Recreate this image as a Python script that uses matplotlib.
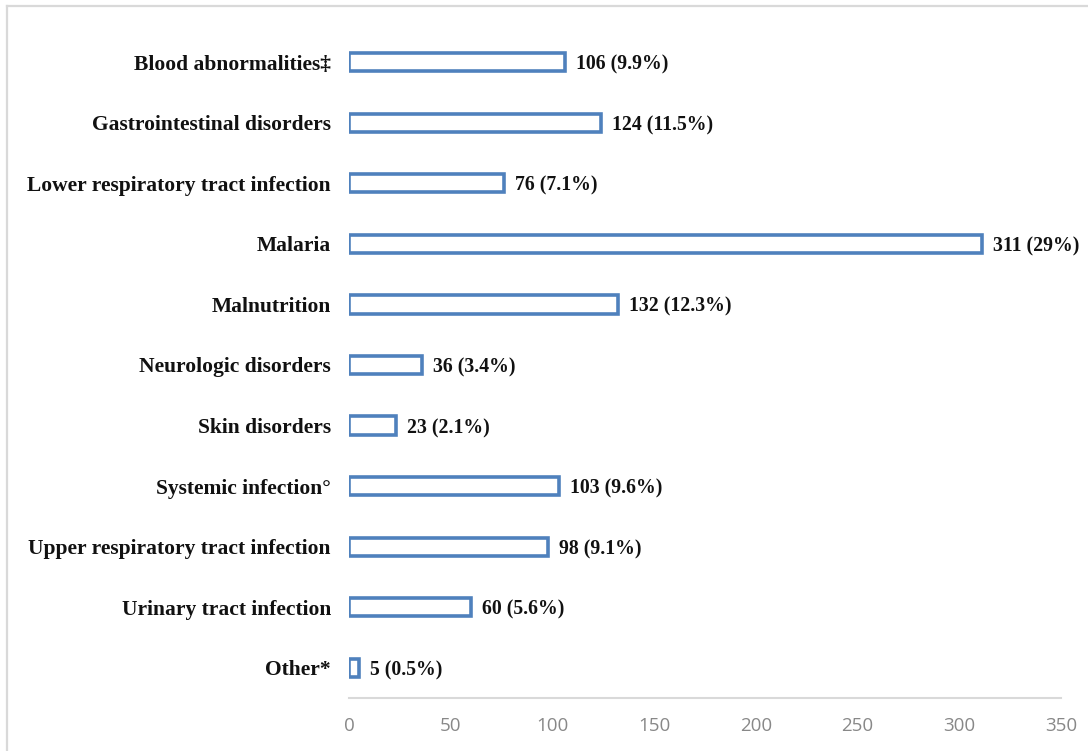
import matplotlib.pyplot as plt
from matplotlib.lines import Line2D

categories = [
    'Blood abnormalities\u2021',
    'Gastrointestinal disorders',
    'Lower respiratory tract infection',
    'Malaria',
    'Malnutrition',
    'Neurologic disorders',
    'Skin disorders',
    'Systemic infection\u00b0',
    'Upper respiratory tract infection',
    'Urinary tract infection',
    'Other*',
]
counts = [106, 124, 76, 311, 132, 36, 23, 103, 98, 60, 5]
percents = ['9.9%', '11.5%', '7.1%', '29%', '12.3%', '3.4%', '2.1%', '9.6%', '9.1%', '5.6%', '0.5%']

xticks = [0, 50, 100, 150, 200, 250, 300, 350]

fig = plt.figure(figsize=(10.88, 7.51), dpi=100)
ax = fig.add_axes([0.3208, 0.0706, 0.6544, 0.8868])

y = list(range(len(categories)))
ax.barh(y, counts, height=0.3, color='white', edgecolor='#4F81BD', linewidth=2.6)

for yi, c, p in zip(y, counts, percents):
    ax.annotate(f'{c} ({p})', xy=(c, yi), xytext=(8, 0), textcoords='offset points',
                ha='left', va='center_baseline', fontsize=14.2, fontweight='bold',
                family='Liberation Serif', color='#111111')

ax.set_yticks(y)
ax.set_yticklabels(categories, fontsize=15.5, fontweight='bold',
                   family='Liberation Serif', color='#111111')
ax.set_ylim(len(categories) - 0.5, -0.5)
ax.set_xlim(0, 350)
ax.set_xticks(xticks)
ax.set_xticklabels([str(t) for t in xticks], fontsize=13.5, color='#888888', family='Open Sans')
ax.tick_params(axis='both', length=0)
ax.tick_params(axis='y', pad=13)
ax.tick_params(axis='x', pad=14)

for side in ['top', 'right', 'left']:
    ax.spines[side].set_visible(False)
ax.spines['bottom'].set_color('#D9D9D9')
ax.spines['bottom'].set_linewidth(1.5)

# frame lines along the top and left edges
fig.add_artist(Line2D([0.0065, 1.0], [0.992, 0.992], color='#D9D9D9', linewidth=1.6))
fig.add_artist(Line2D([0.0065, 0.0065], [0.0, 0.992], color='#D9D9D9', linewidth=1.6))

fig.savefig('out.png', dpi=100, facecolor='white')
